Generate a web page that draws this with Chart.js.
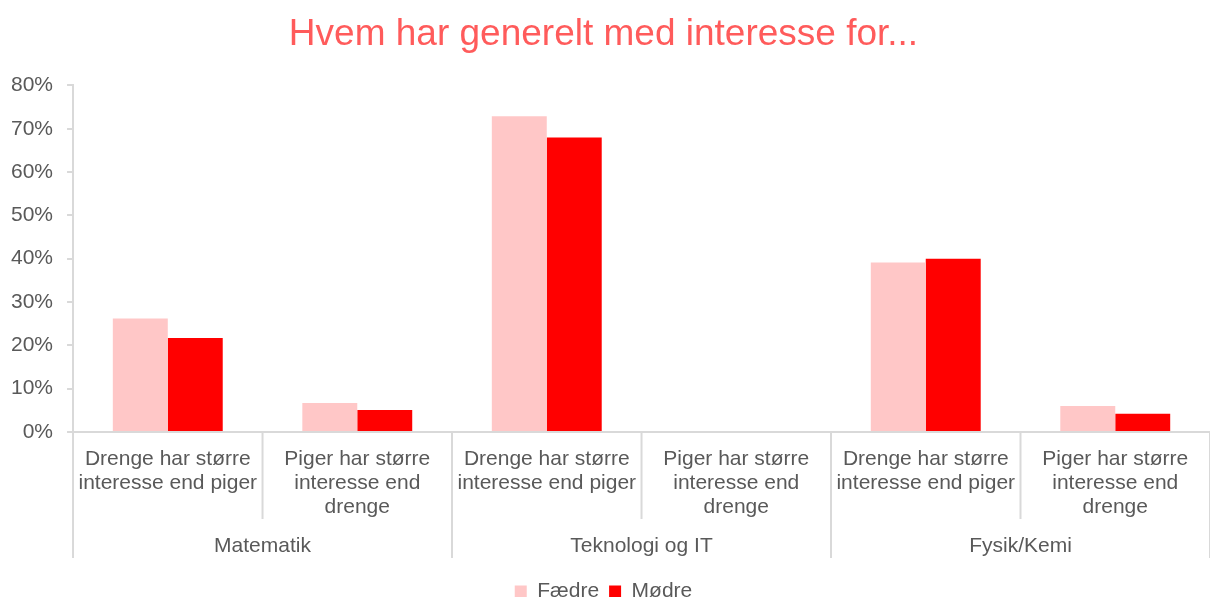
<!DOCTYPE html>
<html>
<head>
<meta charset="utf-8">
<script src="https://cdn.jsdelivr.net/npm/chart.js@4.4.1/dist/chart.umd.min.js"></script>
<style>
  html, body { margin: 0; padding: 0; background: #fff; overflow: hidden; }
  #wrap { width: 1210px; height: 597px; }
</style>
</head>
<body>
<div id="wrap"><canvas id="grafico"></canvas></div>
<script>
// data
const kategorier = [
    ['Drenge har større', 'interesse end piger'],
    ['Piger har større', 'interesse end', 'drenge'],
    ['Drenge har større', 'interesse end piger'],
    ['Piger har større', 'interesse end', 'drenge'],
    ['Drenge har større', 'interesse end piger'],
    ['Piger har større', 'interesse end', 'drenge']
];
const grupper = ['Matematik', 'Teknologi og IT', 'Fysik/Kemi'];
const faedre = [0.262, 0.067, 0.729, 0, 0.391, 0.060];
const moedre = [0.217, 0.051, 0.680, 0, 0.400, 0.042];

const tekstFarve = '#595959';
const linjeFarve = '#D9D9D9';
const font = 'Liberation Sans, Arial, sans-serif';

// separatorer + gruppe-labels under x-aksen
const gruppeAkse = {
    id: 'gruppeAkse',
    afterDraw(chart) {
        const { ctx, chartArea, scales } = chart;
        const x = scales.x;
        const bredde = (x.getPixelForValue(1) - x.getPixelForValue(0));
        const bund = chartArea.bottom;
        ctx.save();
        ctx.strokeStyle = linjeFarve;
        ctx.lineWidth = 2;
        for (let i = 0; i <= kategorier.length; i++) {
            const px = x.getPixelForValue(i) - bredde / 2;
            const slut = (i % 2 === 0) ? bund + 126 : bund + 87;
            ctx.beginPath();
            ctx.moveTo(px, bund);
            ctx.lineTo(px, slut);
            ctx.stroke();
        }
        ctx.fillStyle = tekstFarve;
        ctx.font = '21px ' + font;
        ctx.textAlign = 'center';
        ctx.textBaseline = 'middle';
        grupper.forEach((g, i) => {
            const midt = (x.getPixelForValue(i * 2) + x.getPixelForValue(i * 2 + 1)) / 2;
            ctx.fillText(g, midt, bund + 114);
        });
        ctx.restore();
    }
};

new Chart(document.getElementById('grafico'), {
    type: 'bar',
    data: {
        labels: kategorier,
        datasets: [
            { label: 'Fædre', data: faedre, backgroundColor: '#FFC7C7' },
            { label: 'Mødre', data: moedre, backgroundColor: '#FF0000' }
        ]
    },
    options: {
        responsive: true,
        maintainAspectRatio: false,
        animation: false,
        layout: { padding: { left: -3, right: 0, top: 0, bottom: -15 } },
        datasets: { bar: { categoryPercentage: 0.58, barPercentage: 1.0 } },
        plugins: {
            title: {
                display: true,
                text: 'Hvem har generelt med interesse for...',
                color: '#FF5B5B',
                font: { family: font, size: 37, weight: 'normal' },
                padding: { top: 13, bottom: 28 }
            },
            legend: {
                position: 'bottom',
                labels: {
                    color: tekstFarve,
                    font: { family: font, size: 21 },
                    boxWidth: 12,
                    boxHeight: 12,
                    padding: 10
                }
            },
            tooltip: { enabled: false }
        },
        scales: {
            y: {
                min: 0,
                max: 0.8,
                ticks: {
                    stepSize: 0.1,
                    color: tekstFarve,
                    font: { family: font, size: 21 },
                    padding: 14,
                    callback: v => Math.round(v * 100) + '%'
                },
                grid: { drawOnChartArea: false, drawTicks: true, tickLength: 6, color: linjeFarve, lineWidth: 2 },
                border: { color: linjeFarve, width: 2 }
            },
            x: {
                ticks: {
                    color: tekstFarve,
                    font: { family: font, size: 21, lineHeight: 1.143 },
                    padding: 7,
                    maxRotation: 0,
                    autoSkip: false
                },
                grid: { display: false },
                border: { color: linjeFarve, width: 2 },
                afterFit: (scale) => { scale.height += 45; }
            }
        }
    },
    plugins: [gruppeAkse]
});
</script>
</body>
</html>
